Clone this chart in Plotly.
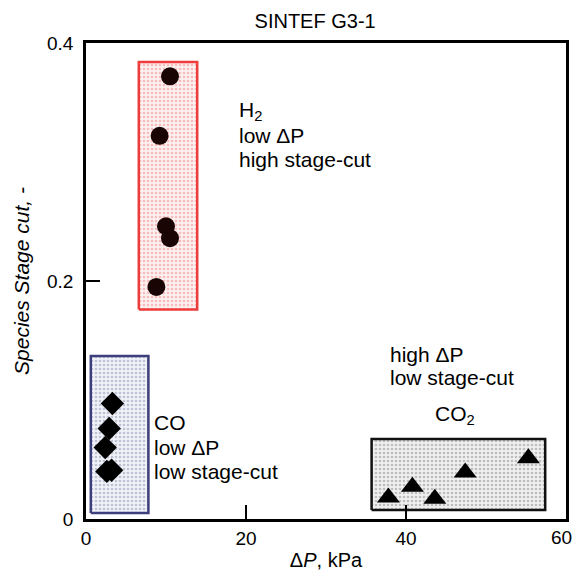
import plotly.graph_objects as go

# H2 data (circles)
h2_dp = [10.5, 9.2, 10.0, 10.5, 8.8]
h2_cut = [0.372, 0.322, 0.246, 0.236, 0.195]
# CO data (diamonds)
co_dp = [3.3, 2.9, 2.4, 2.6, 3.2]
co_cut = [0.097, 0.076, 0.060, 0.040, 0.041]
# CO2 data (triangles)
co2_dp = [37.8, 40.8, 43.6, 47.4, 55.3]
co2_cut = [0.018, 0.027, 0.017, 0.039, 0.051]

# Region boxes [x0, x1, y0, y1]
h2_box = [6.6, 13.9, 0.176, 0.384]
co_box = [0.6, 7.8, 0.005, 0.137]
co2_box = [35.7, 57.4, 0.0076, 0.0672]

x_ticks = [0, 20, 40, 60]
x_tick_text = ["0", "20", "40", ""]
x_last_label = "60"
y_ticks = [0, 0.2, 0.4]
y_tick_text = ["0", "0.2", "0.4"]

FONT = "Liberation Sans, Arial, sans-serif"

fig = go.Figure()

def box_trace(b, line_color, fg, bg):
    return go.Scatter(
        x=[b[0], b[1], b[1], b[0], b[0]],
        y=[b[2], b[2], b[3], b[3], b[2]],
        mode="lines", fill="toself",
        fillcolor=bg,
        fillpattern=dict(shape=".", fgcolor=fg, bgcolor=bg, size=4, solidity=0.35),
        line=dict(color=line_color, width=2.5),
        hoverinfo="skip", showlegend=False,
    )

fig.add_trace(box_trace(h2_box, "#ee3b3b", "#f08a8a", "#fdf0f0"))
fig.add_trace(box_trace(co_box, "#3c3f7c", "#8a8fb0", "#f1f2f7"))
fig.add_trace(box_trace(co2_box, "#111111", "#8a8a8a", "#f0f0f0"))

fig.add_trace(go.Scatter(x=h2_dp, y=h2_cut, mode="markers",
                         marker=dict(symbol="circle", size=18, color="#1a0505",
                                     line=dict(width=0)), showlegend=False))
fig.add_trace(go.Scatter(x=co_dp, y=co_cut, mode="markers",
                         marker=dict(symbol="diamond", size=18, color="#000000",
                                     line=dict(width=0)), showlegend=False))
fig.add_trace(go.Scatter(x=co2_dp, y=co2_cut, mode="markers",
                         marker=dict(symbol="triangle-up", size=20, color="#000000",
                                     line=dict(width=0)), showlegend=False))

ann_font = dict(family=FONT, size=21, color="#000000")
labels = [
    (18.9, 0.343, "H<sub>2</sub>", "left"),
    (18.9, 0.322, "low ΔP", "left"),
    (18.9, 0.302, "high stage-cut", "left"),
    (8.25, 0.081, "CO", "left"),
    (8.25, 0.0605, "low ΔP", "left"),
    (8.25, 0.040, "low stage-cut", "left"),
    (37.75, 0.138, "high ΔP", "left"),
    (37.75, 0.119, "low stage-cut", "left"),
    (46.1, 0.087, "CO<sub>2</sub>", "center"),
]
for x, y, t, xa in labels:
    fig.add_annotation(x=x, y=y, text=t, showarrow=False, xanchor=xa,
                       yanchor="middle", font=ann_font)

# last x tick label kept inside the page
fig.add_annotation(x=1.0167, y=-0.0399, xref="paper", yref="paper", text=x_last_label,
                   showarrow=False, xanchor="right", yanchor="middle",
                   font=dict(family=FONT, size=19, color="#000000"))

fig.update_layout(
    width=574, height=574,
    margin=dict(l=86, r=8, t=43, b=55, autoexpand=False),
    paper_bgcolor="white", plot_bgcolor="white",
    title=dict(text="SINTEF G3-1", x=0.549, xanchor="center", y=0.963, yanchor="middle",
               font=dict(family=FONT, size=20, color="#000000"), automargin=False),
    font=dict(family=FONT, size=18, color="#000000"),
)
fig.update_xaxes(
    range=[0, 60], tickvals=x_ticks, ticktext=x_tick_text, ticks="inside", ticklen=14,
    tickwidth=2, tickcolor="#000000", showline=True, linecolor="#000000", linewidth=2.5,
    mirror=True, showgrid=False, zeroline=False, tickfont=dict(family=FONT, size=19),
    automargin=False,
    title=dict(text="Δ<i>P</i>, kPa", font=dict(family=FONT, size=20), standoff=6),
)
fig.update_yaxes(
    range=[0, 0.4], tickvals=y_ticks, ticktext=y_tick_text, ticks="inside", ticklen=14,
    tickwidth=2, tickcolor="#000000", showline=True, linecolor="#000000", linewidth=2.5,
    mirror=True, showgrid=False, zeroline=False, tickfont=dict(family=FONT, size=19),
    ticklabelstandoff=6, automargin=False,
    title=dict(text="<i>Species Stage cut, -</i>", font=dict(family=FONT, size=21), standoff=12),
)

fig.write_html("out.html")
